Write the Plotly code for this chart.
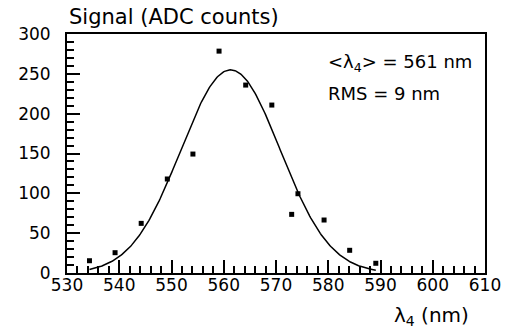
import numpy as np
import plotly.graph_objects as go

# Measured points
wavelength_nm = [534.3, 539.2, 544.2, 549.2, 554.1, 559.1, 564.2, 569.2, 573.0, 574.2, 579.2, 584.1, 589.1]
signal_adc = [15.4, 25.5, 62.3, 118.0, 149.3, 278.5, 235.9, 210.8, 73.6, 99.5, 66.5, 28.5, 12.2]

# Gaussian fit parameters
fit_amplitude = 255.0
fit_mean = 561.3
fit_sigma = 9.5
fit_range = [534.3, 589.1]

x_ticks = [530, 540, 550, 560, 570, 580, 590, 600, 610]
y_ticks = [0, 50, 100, 150, 200, 250, 300]

xf = np.linspace(fit_range[0], fit_range[1], 300)
yf = fit_amplitude * np.exp(-0.5 * ((xf - fit_mean) / fit_sigma) ** 2)

FONT = "DejaVu Sans, Liberation Sans, sans-serif"

fig = go.Figure()
fig.add_trace(go.Scatter(x=xf, y=yf, mode="lines",
                         line=dict(color="black", width=1.5), showlegend=False))
fig.add_trace(go.Scatter(x=wavelength_nm, y=signal_adc, mode="markers",
                         marker=dict(symbol="square", size=5, color="black"),
                         showlegend=False))

axis_common = dict(
    showline=True, linecolor="black", linewidth=2, mirror=True,
    ticks="inside", ticklen=13, tickwidth=1.5, tickcolor="black",
    showgrid=False, zeroline=False,
    tickfont=dict(family=FONT, size=17, color="black"),
)

fig.update_xaxes(range=[530, 610], tickvals=x_ticks, ticklabelstandoff=-4,
                 minor=dict(dtick=2, ticks="inside", ticklen=7, tickwidth=1.5, tickcolor="black"),
                 **axis_common)
fig.update_yaxes(range=[0, 300], tickvals=y_ticks, ticklabelstandoff=11,
                 minor=dict(dtick=10, ticks="inside", ticklen=7, tickwidth=1.5, tickcolor="black"),
                 **axis_common)

fig.update_layout(
    width=520, height=333,
    margin=dict(l=67, r=35, t=34, b=60),
    plot_bgcolor="white", paper_bgcolor="white",
    font=dict(family=FONT, color="black"),
    annotations=[
        dict(text="Signal (ADC counts)", xref="paper", yref="paper", x=0, y=1,
             xanchor="left", yanchor="bottom", yshift=3, showarrow=False,
             font=dict(size=21, family=FONT, color="black")),
        dict(text="λ<sub>4</sub> (nm)", xref="paper", yref="paper", x=1, y=0,
             xanchor="right", yanchor="top", xshift=-14, yshift=-28, showarrow=False,
             font=dict(size=20, family=FONT, color="black")),
        dict(text="&lt;λ<sub>4</sub>&gt; = 561 nm", xref="paper", yref="paper",
             x=0.62, y=0.88, xanchor="left", yanchor="middle", showarrow=False,
             font=dict(size=18, family=FONT, color="black")),
        dict(text="RMS = 9 nm", xref="paper", yref="paper",
             x=0.62, y=0.75, xanchor="left", yanchor="middle", showarrow=False,
             font=dict(size=18, family=FONT, color="black")),
    ],
)

fig.write_html("out.html", config={"displayModeBar": False},
               post_script="document.body.style.margin='0';")
